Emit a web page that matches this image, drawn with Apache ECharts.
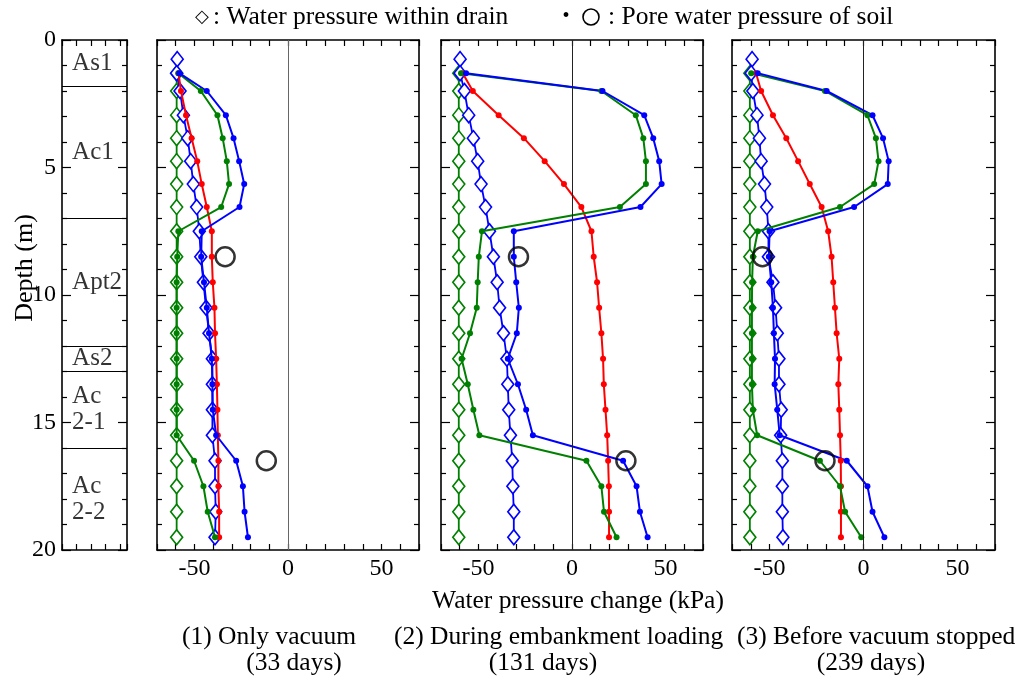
<!DOCTYPE html>
<html>
<head>
<meta charset="utf-8">
<script src="https://cdn.jsdelivr.net/npm/echarts@6/dist/echarts.min.js"></script>
<style>
  html, body { margin: 0; padding: 0; background: #fff; }
  #chart { width: 1021px; height: 680px; }
</style>
</head>
<body>
<div id="chart"></div>
<script>
// Measurement depths (m) shared by all profiles
const depth = [0.75, 1.3, 2.0, 2.95, 3.85, 4.75, 5.65, 6.55, 7.5, 8.5, 9.5,
               10.5, 11.5, 12.5, 13.5, 14.5, 15.5, 16.5, 17.5, 18.5, 19.5];

// Soil layers: name, top and bottom depth (m)
const layerNames = ['As1', 'Ac1', 'Apt2', 'As2', 'Ac\n2-1', 'Ac\n2-2'];
const layerTop    = [0, 1.8, 7.0, 12.0, 13.0, 16.0];
const layerBottom = [1.8, 7.0, 12.0, 13.0, 16.0, 20.0];

// (1) Only vacuum, 33 days
const drainGreen1 = [null, -59.5, -59.5, -59.5, -59.5, -59.5, -59.5, -59.5, -59.5, -59.5, -59.5,
                     -59.5, -59.5, -59.5, -59.5, -59.5, -59.5, -59.5, -59.5, -59.5, -59.5];
const drainBlue1  = [-59.2, -59.5, -57.7, -55.9, -53.6, -52.0, -50.6, -48.8, -47.4, -46.6, -45.2,
                     -43.8, -42.2, -40.4, -40.4, -40.4, -40.4, -39.0, -39.0, -38.6, -39.0];
const poreGreen1  = [null, -58.6, -46.6, -37.7, -34.9, -32.7, -31.5, -35.7, -58.6, -59.2, -59.5,
                     -59.5, -59.5, -59.5, -59.5, -59.5, -59.5, -50.2, -45.2, -42.9, -39.0];
const poreBlue1   = [null, -58.1, -43.4, -33.2, -29.1, -26.1, -23.4, -25.9, -46.1, -46.4, -44.9,
                     -43.4, -42.2, -40.7, -40.4, -40.2, -38.4, -27.7, -24.1, -23.2, -21.4];
const poreRed1    = [null, -58.5, -57.2, -54.5, -51.5, -48.5, -46.1, -43.4, -40.7, -40.7, -40.2,
                     -39.3, -39.0, -38.4, -38.0, -37.7, -37.5, -37.2, -37.2, -36.8, -36.8];
const soilCircle1 = [[-33.6, 8.5], [-11.6, 16.5]];

// (2) During embankment loading, 131 days
const drainGreen2 = [null, -60.5, -60.5, -60.5, -60.5, -60.5, -60.5, -60.5, -60.5, -60.5, -60.5,
                     -60.5, -60.5, -60.5, -60.5, -60.5, -60.5, -60.5, -60.5, -60.5, -60.5];
const drainBlue2  = [-59.8, -59.8, -57.5, -55.2, -52.7, -50.4, -48.6, -46.2, -44.1, -42.0, -40.0,
                     -38.7, -36.6, -34.8, -34.3, -33.8, -32.9, -31.9, -31.6, -31.1, -31.1];
const poreGreen2  = [null, -59.3, 15.7, 34.1, 38.1, 39.5, 39.5, 25.6, -48.1, -49.8, -50.4,
                     -50.9, -54.5, -59.0, -55.7, -52.7, -49.5, 7.7, 15.7, 17.1, 23.8];
const poreBlue2   = [null, -56.6, 16.3, 38.6, 43.4, 46.6, 47.9, 36.6, -31.1, -31.1, -29.8,
                     -28.4, -29.5, -34.3, -28.9, -24.5, -20.9, 27.3, 34.5, 36.3, 40.4];
const poreRed2    = [null, -58.4, -53.0, -39.2, -25.7, -14.6, -4.3, 5.0, 10.4, 11.6, 13.4,
                     14.5, 15.7, 16.6, 17.0, 17.9, 18.8, 19.3, 19.7, 19.8, 19.8];
const soilCircle2 = [[-28.6, 8.5], [28.8, 16.5]];

// (3) Before vacuum stopped, 239 days
const drainGreen3 = [null, -60.5, -60.5, -60.5, -60.5, -60.5, -60.5, -60.5, -60.5, -60.5, -60.5,
                     -60.5, -60.5, -60.5, -60.5, -60.5, -60.5, -60.5, -60.5, -60.5, -60.5];
const drainBlue3  = [-59.3, -59.8, -58.9, -56.7, -55.4, -54.5, -52.7, -51.5, -50.6, -50.6, -48.2,
                     -46.8, -45.9, -45.0, -45.0, -43.8, -44.1, -43.2, -43.2, -43.2, -42.9];
const poreGreen3  = [null, -59.8, -20.5, 2.1, 6.6, 8.0, 5.7, -12.5, -56.3, -58.9, -59.3,
                     -59.4, -59.4, -59.4, -59.4, -58.9, -56.6, -23.2, -12.5, -9.8, -1.2];
const poreBlue3   = [null, -56.3, -19.6, 4.8, 10.4, 13.4, 12.9, -5.0, -50.0, -50.4, -49.1,
                     -48.2, -47.7, -47.1, -47.3, -45.9, -44.6, -8.9, 2.1, 4.8, 11.1];
const poreRed3    = [null, -57.2, -54.5, -48.2, -41.1, -34.8, -28.6, -22.3, -18.8, -17.0, -16.1,
                     -15.2, -14.3, -12.9, -13.4, -12.9, -12.5, -12.1, -12.0, -12.0, -12.0];
const soilCircle3 = [[-53.8, 8.5], [-20.5, 16.5]];

const xTickLabels = [-50, 0, 50];
const depthTickLabels = [0, 5, 10, 15, 20];

const panelTitles = ['(1) Only vacuum', '(2) During embankment loading', '(3) Before vacuum stopped'];
const panelDays   = ['(33 days)', '(131 days)', '(239 days)'];

// ---------------------------------------------------------------------------
const FONT = "'Liberation Serif', 'Times New Roman', serif";
const GREEN = '#008000', BLUE = '#0000ff', RED = '#ff0000';

const panels = [
  { drainGreen: drainGreen1, drainBlue: drainBlue1, poreGreen: poreGreen1, poreBlue: poreBlue1, poreRed: poreRed1, circles: soilCircle1, zero: '#666' },
  { drainGreen: drainGreen2, drainBlue: drainBlue2, poreGreen: poreGreen2, poreBlue: poreBlue2, poreRed: poreRed2, circles: soilCircle2, zero: '#222' },
  { drainGreen: drainGreen3, drainBlue: drainBlue3, poreGreen: poreGreen3, poreBlue: poreBlue3, poreRed: poreRed3, circles: soilCircle3, zero: '#222' }
];

function profile(values) {
  const out = [];
  values.forEach((v, i) => { if (v !== null) out.push([v, depth[i]]); });
  return out;
}

const grids = [
  { left: 62,  top: 40, width: 65,  height: 510 },
  { left: 157, top: 40, width: 262, height: 510 },
  { left: 441, top: 40, width: 262, height: 510 },
  { left: 732, top: 40, width: 263, height: 510 }
];

const frameLine = { show: true, onZero: false, lineStyle: { color: '#000', width: 1.6 } };

const xAxes = [], yAxes = [];
grids.forEach((g, gi) => {
  const isColumn = gi === 0;
  ['bottom', 'top'].forEach(pos => {
    xAxes.push({
      type: 'value', gridIndex: gi, position: pos,
      min: isColumn ? 0 : -70, max: isColumn ? 4.5 : 70, interval: isColumn ? 1 : 10,
      axisLine: frameLine,
      axisTick: { show: true, inside: true, length: 6, lineStyle: { color: '#000', width: 1.2 } },
      splitLine: { show: false },
      axisLabel: {
        show: !isColumn && pos === 'bottom',
        color: '#000', fontSize: 24, fontFamily: FONT, margin: 7,
        formatter: v => (xTickLabels.indexOf(v) >= 0 ? String(v) : '')
      }
    });
  });
  ['left', 'right'].forEach(pos => {
    yAxes.push({
      type: 'value', gridIndex: gi, position: pos, inverse: true,
      min: 0, max: 20, interval: 5,
      axisLine: frameLine,
      axisTick: { show: true, inside: true, length: 9, lineStyle: { color: '#000', width: 1.2 } },
      minorTick: { show: true, splitNumber: 5, length: 5, lineStyle: { color: '#000', width: 1.2 } },
      splitLine: { show: false },
      axisLabel: {
        show: isColumn && pos === 'left',
        color: '#000', fontSize: 24, fontFamily: FONT, margin: 6,
        formatter: v => (depthTickLabels.indexOf(v) >= 0 ? String(v) : '')
      }
    });
  });
});

const series = [];

// Soil column: layer boundaries and names
series.push({
  type: 'scatter', xAxisIndex: 0, yAxisIndex: 0, symbolSize: 0, silent: true,
  data: layerNames.map((n, i) => ({ value: [0.7, (layerTop[i] + layerBottom[i]) / 2], name: n })),
  label: {
    show: true, position: 'right', distance: 0, formatter: p => p.name,
    color: '#000', fontSize: 25, fontFamily: FONT, lineHeight: 26, align: 'left'
  },
  markLine: {
    silent: true, symbol: 'none', label: { show: false },
    lineStyle: { color: '#000', width: 1, type: 'solid' },
    data: layerBottom.slice(0, -1).map(d => ({ yAxis: d }))
  }
});

function drainSeries(idx, values, color, withZero) {
  const s = {
    type: 'line', xAxisIndex: idx, yAxisIndex: idx, data: profile(values),
    symbol: 'diamond', symbolSize: [12, 15], z: 2,
    itemStyle: { color: '#fff', borderColor: color, borderWidth: 1.6 },
    lineStyle: { color: color, width: 1.8 }
  };
  if (withZero) {
    s.markLine = {
      silent: true, symbol: 'none', label: { show: false },
      lineStyle: { color: withZero, width: 1, type: 'solid' },
      data: [{ xAxis: 0 }]
    };
  }
  return s;
}
function poreSeries(idx, values, color) {
  return {
    type: 'line', xAxisIndex: idx, yAxisIndex: idx, data: profile(values),
    symbol: 'circle', symbolSize: 6, z: 3,
    itemStyle: { color: color },
    lineStyle: { color: color, width: 2 }
  };
}

panels.forEach((p, pi) => {
  const idx = 2 * (pi + 1);
  series.push(drainSeries(idx, p.drainGreen, GREEN, p.zero));
  series.push(drainSeries(idx, p.drainBlue, BLUE, null));
  series.push(poreSeries(idx, p.poreRed, RED));
  series.push(poreSeries(idx, p.poreGreen, GREEN));
  series.push(poreSeries(idx, p.poreBlue, BLUE));
  series.push({
    type: 'scatter', xAxisIndex: idx, yAxisIndex: idx, data: p.circles,
    symbol: 'circle', symbolSize: 19, z: 4,
    itemStyle: { color: 'rgba(0,0,0,0)', borderColor: '#000', borderWidth: 2.5 }
  });
});

const txt = (x, y, text, align, size, extra) => Object.assign({
  type: 'text', x: x, y: y,
  style: { text: text, fill: '#000', font: (size || 25.5) + 'px ' + FONT, textAlign: align || 'left', textVerticalAlign: 'middle' }
}, extra || {});

const graphic = [
  txt(25, 268, 'Depth (m)', 'center', 26, { rotation: Math.PI / 2 }),
  txt(202, 17, '\u25C7', 'center', 18),
  txt(213, 17, ': Water pressure within drain', 'left'),
  txt(566, 17, '\u2022', 'center', 20),
  { type: 'circle', shape: { cx: 591, cy: 17, r: 8 }, style: { fill: 'none', stroke: '#000', lineWidth: 1.6 } },
  txt(608, 17, ': Pore water pressure of soil', 'left'),
  txt(578, 601, 'Water pressure change (kPa)', 'center'),
  txt(182, 637, panelTitles[0], 'left'),
  txt(294, 663, panelDays[0], 'center'),
  txt(394, 637, panelTitles[1], 'left'),
  txt(543, 663, panelDays[1], 'center'),
  txt(737, 637, panelTitles[2], 'left'),
  txt(871, 663, panelDays[2], 'center')
];

const chart = echarts.init(document.getElementById('chart'), null, { renderer: 'canvas' });
chart.setOption({
  animation: false,
  backgroundColor: '#fff',
  textStyle: { fontFamily: FONT },
  grid: grids,
  xAxis: xAxes,
  yAxis: yAxes,
  series: series,
  graphic: graphic
});
</script>
</body>
</html>
